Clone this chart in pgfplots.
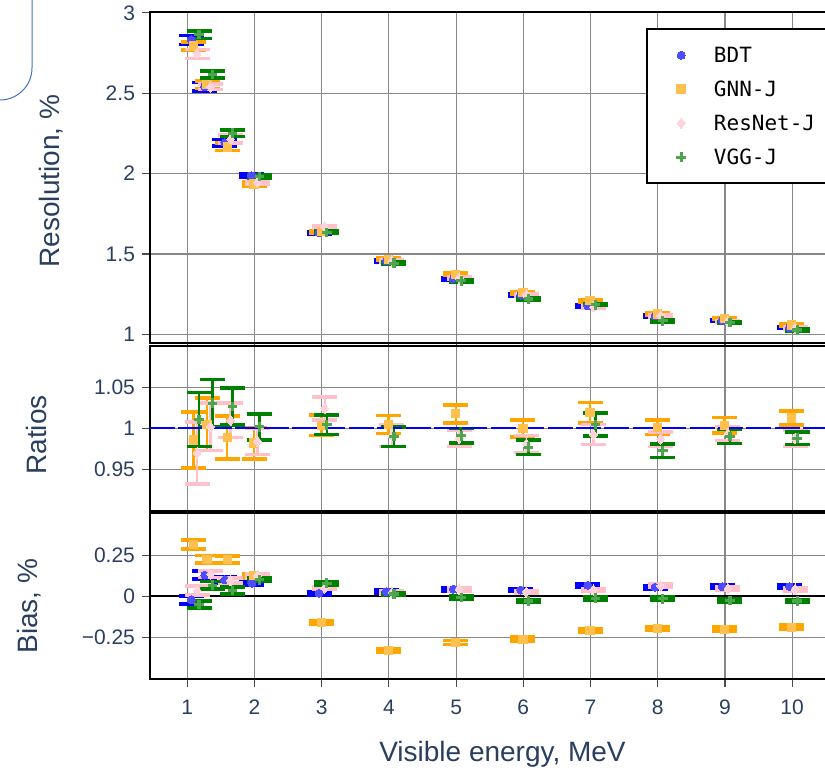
\documentclass[border=0pt]{standalone}
\usepackage{fontspec}
\setmainfont{Liberation Sans}
\newfontfamily\monofont{DejaVu Sans Mono}
\usepackage{pgfplots}
\pgfplotsset{compat=1.18}
\usepackage{pgfplotstable}

\definecolor{labc}{HTML}{2A3F5F}
\definecolor{gridc}{HTML}{888888}
\definecolor{strayc}{HTML}{4472C4}
\definecolor{bdtc}{RGB}{0,0,255}
\definecolor{bdtm}{RGB}{77,77,255}
\definecolor{gnnc}{RGB}{255,165,0}
\definecolor{gnnm}{RGB}{255,192,77}
\definecolor{resc}{RGB}{255,192,203}
\definecolor{resm}{RGB}{255,211,219}
\definecolor{vggc}{RGB}{0,128,0}
\definecolor{vggm}{RGB}{77,166,77}

% resolution, %
\pgfplotstableread{
xb    yb    eb    xg     yg    eg    xr     yr    er    xv     yv    ev
1.06  2.831 0.027 1.095  2.793 0.024 1.145  2.745 0.028 1.175  2.864 0.023
1.26  2.540 0.026 1.295  2.553 0.023 1.345  2.539 0.017 1.375  2.616 0.023
1.56  2.193 0.020 1.595  2.166 0.023 1.645  2.214 0.025 1.675  2.251 0.020
1.96  1.987 0.012 1.995  1.936 0.012 2.045  1.946 0.012 2.075  1.981 0.012
2.96  1.633 0.008 2.995  1.639 0.008 3.045  1.668 0.010 3.075  1.635 0.008
3.96  1.457 0.007 3.995  1.467 0.008 4.045  1.457 0.007 4.075  1.443 0.007
4.96  1.347 0.007 4.995  1.374 0.008 5.045  1.350 0.007 5.075  1.334 0.007
5.96  1.245 0.006 5.995  1.260 0.007 6.045  1.245 0.006 6.075  1.220 0.006
6.96  1.177 0.006 6.995  1.210 0.007 7.045  1.170 0.006 7.075  1.185 0.006
7.96  1.115 0.006 7.995  1.127 0.006 8.045  1.115 0.006 8.075  1.085 0.006
8.96  1.085 0.005 8.995  1.100 0.006 9.045  1.080 0.005 9.075  1.075 0.005
9.96  1.042 0.005 9.995  1.059 0.006 10.045 1.040 0.005 10.075 1.028 0.005
}\res

% ratios to BDT
\pgfplotstableread{
xg     yg     eg     xr     yr     er     xv     yv     ev
1.095  0.986  0.034  1.145  0.970  0.038  1.175  1.011  0.033
1.295  1.005  0.032  1.345  1.002  0.029  1.375  1.031  0.029
1.595  0.989  0.026  1.645  1.010  0.021  1.675  1.027  0.0225
1.995  0.982  0.019  2.045  0.984  0.016  2.075  1.002  0.016
2.995  1.004  0.0126 3.045  1.0245 0.014  3.075  1.0045 0.012
3.995  1.005  0.011  4.045  0.991  0.013  4.075  0.990  0.012
4.995  1.018  0.011  5.045  0.988  0.010  5.075  0.991  0.009
5.995  1.000  0.0107 6.045  0.981  0.0106 6.075  0.977  0.009
6.995  1.0195 0.0125 7.045  0.9926 0.0123 7.075  1.005  0.014
7.995  1.0014 0.0088 8.045  0.987  0.009  8.075  0.9727 0.008
8.995  1.004  0.0094 9.045  0.9935 0.008  9.075  0.990  0.0086
9.995  1.0128 0.0088 10.045 0.988  0.010  10.075 0.988  0.0074
}\rat

% bias, %
\pgfplotstableread{
xb    yb     eb    xg     yg     eg    xr     yr    er    xv     yv      ev
1.06  -0.022 0.025 1.095  0.316  0.027 1.145  0.035 0.027 1.175  -0.051  0.022
1.26  0.129  0.025 1.295  0.2245 0.023 1.345  0.135 0.020 1.375  0.067   0.022
1.56  0.100  0.020 1.595  0.224  0.023 1.645  0.095 0.015 1.675  0.035   0.020
1.96  0.080  0.010 1.995  0.125  0.012 2.045  0.125 0.012 2.075  0.100   0.010
2.96  0.018  0.010 2.995  -0.159 0.012 3.045  0.050 0.010 3.075  0.079   0.010
3.96  0.028  0.010 3.995  -0.332 0.012 4.045  0.022 0.010 4.075  0.014   0.010
4.96  0.043  0.010 4.995  -0.283 0.012 5.045  0.043 0.010 5.075  -0.0085 0.010
5.96  0.038  0.010 5.995  -0.262 0.012 6.045  0.026 0.010 6.075  -0.029  0.010
6.96  0.067  0.010 6.995  -0.210 0.012 7.045  0.038 0.010 7.075  -0.012  0.010
7.96  0.055  0.010 7.995  -0.198 0.012 8.045  0.063 0.010 8.075  -0.016  0.010
8.96  0.059  0.010 8.995  -0.201 0.012 9.045  0.046 0.010 9.075  -0.027  0.010
9.96  0.059  0.010 9.995  -0.189 0.012 10.045 0.043 0.010 10.075 -0.029  0.010
}\bia

\pgfplotsset{
  panel/.style={
    scale only axis, width=352.5pt,
    xmin=0.445, xmax=10.936,
    xtick={1,2,3,4,5,6,7,8,9,10},
    tick pos=left, tick align=outside, major tick length=4pt,
    tick style={color=black!70, line width=0.6pt},
    grid=major, grid style={color=gridc, line width=0.6pt},
    axis line style={black, line width=1pt},
    ticklabel style={font=\fontsize{10.5}{12}\selectfont, color=labc},
    ylabel style={font=\fontsize{14}{16}\selectfont, color=labc, anchor=center},
    xlabel style={font=\fontsize{14}{16}\selectfont, color=labc, anchor=center},
  },
  errs/.style={error bars/.cd, y dir=both, y explicit,
    error bar style={line width=1.2pt},
    error mark options={rotate=90, mark size=6.25pt, line width=1.8pt}},
  bdt/.style={only marks, color=bdtc, mark=*, mark size=2pt,
    mark options={draw=bdtm, fill=bdtm, line width=0pt}, errs},
  gnn/.style={only marks, color=gnnc, mark=square*, mark size=2.1pt,
    mark options={draw=gnnm, fill=gnnm, line width=0pt}, errs},
  resn/.style={only marks, color=resc, mark=diamond*, mark size=2.6pt,
    mark options={draw=resm, fill=resm, line width=0pt}, errs},
  vgg/.style={only marks, color=vggc, mark=+, mark size=2.4pt,
    mark options={color=vggm, line width=1.6pt}, errs},
}

\begin{document}
\begin{tikzpicture}
\draw[color=strayc, line width=0.5pt] (16pt,385pt) -- (16pt,351pt)
  arc[start angle=0, end angle=-90, radius=16pt];

\begin{axis}[panel, at={(75pt,213.5pt)}, anchor=south west, height=165.5pt,
  ymin=0.947, ymax=3.005,
  ytick={1,1.5,2,2.5,3}, yticklabels={1,1.5,2,2.5,3},
  xticklabels=\empty,
  ylabel={Resolution, \%},
  ylabel style={at={(axis description cs:-0.1404,0.4894)}},
  legend style={at={(rel axis cs:0.7035,0.9517)}, anchor=north west,
    draw=black, line width=1pt, fill=white,
    font=\monofont\fontsize{10.5}{12}\selectfont, text=black,
    inner xsep=14.7pt, inner ysep=9.25pt, row sep=9.3pt, column sep=14pt,
    nodes={inner sep=0pt, text height=7.7pt, text depth=0pt}},
  legend cell align=left,
]
\addplot[bdt]  table[x=xb, y=yb, y error=eb] {\res};
\addlegendentry{BDT}
\addplot[gnn]  table[x=xg, y=yg, y error=eg] {\res};
\addlegendentry{GNN-J}
\addplot[resn] table[x=xr, y=yr, y error=er] {\res};
\addlegendentry{ResNet-J}
\addplot[vgg]  table[x=xv, y=yv, y error=ev] {\res};
\addlegendentry{VGG-J}
\end{axis}

\begin{axis}[panel, at={(75pt,129.5pt)}, anchor=south west, height=82.5pt,
  ymin=0.899, ymax=1.101,
  ytick={0.95,1,1.05}, yticklabels={0.95,1,1.05},
  xticklabels=\empty,
  ylabel={Ratios},
  ylabel style={at={(axis description cs:-0.1603,0.4606)}},
]
\addplot[gnn]  table[x=xg, y=yg, y error=eg] {\rat};
\addplot[resn] table[x=xr, y=yr, y error=er] {\rat};
\addplot[vgg]  table[x=xv, y=yv, y error=ev] {\rat};
\addplot[color=bdtc, line width=1pt, dash pattern=on 12.5pt off 1.7pt]
  coordinates {(0.445,1) (10.936,1)};
\end{axis}

\begin{axis}[panel, at={(75pt,45.5pt)}, anchor=south west, height=82.75pt,
  ymin=-0.5045, ymax=0.5045,
  ytick={-0.25,0,0.25}, yticklabels={−0.25,0,0.25},
  xticklabels={1,2,3,4,5,6,7,8,9,10},
  xticklabel style={yshift=-3pt},
  ylabel={Bias, \%},
  ylabel style={at={(axis description cs:-0.1716,0.441)}},
  xlabel={Visible energy, MeV},
  xlabel style={at={(axis description cs:0.5,0)}, yshift=-37.5pt},
]
\addplot[black, line width=0.8pt] coordinates {(0.445,0) (10.936,0)};
\addplot[bdt]  table[x=xb, y=yb, y error=eb] {\bia};
\addplot[gnn]  table[x=xg, y=yg, y error=eg] {\bia};
\addplot[resn] table[x=xr, y=yr, y error=er] {\bia};
\addplot[vgg]  table[x=xv, y=yv, y error=ev] {\bia};
\end{axis}

\pgfresetboundingbox
\path[use as bounding box] (0,0) rectangle (412.5pt,385pt);
\end{tikzpicture}
\end{document}
